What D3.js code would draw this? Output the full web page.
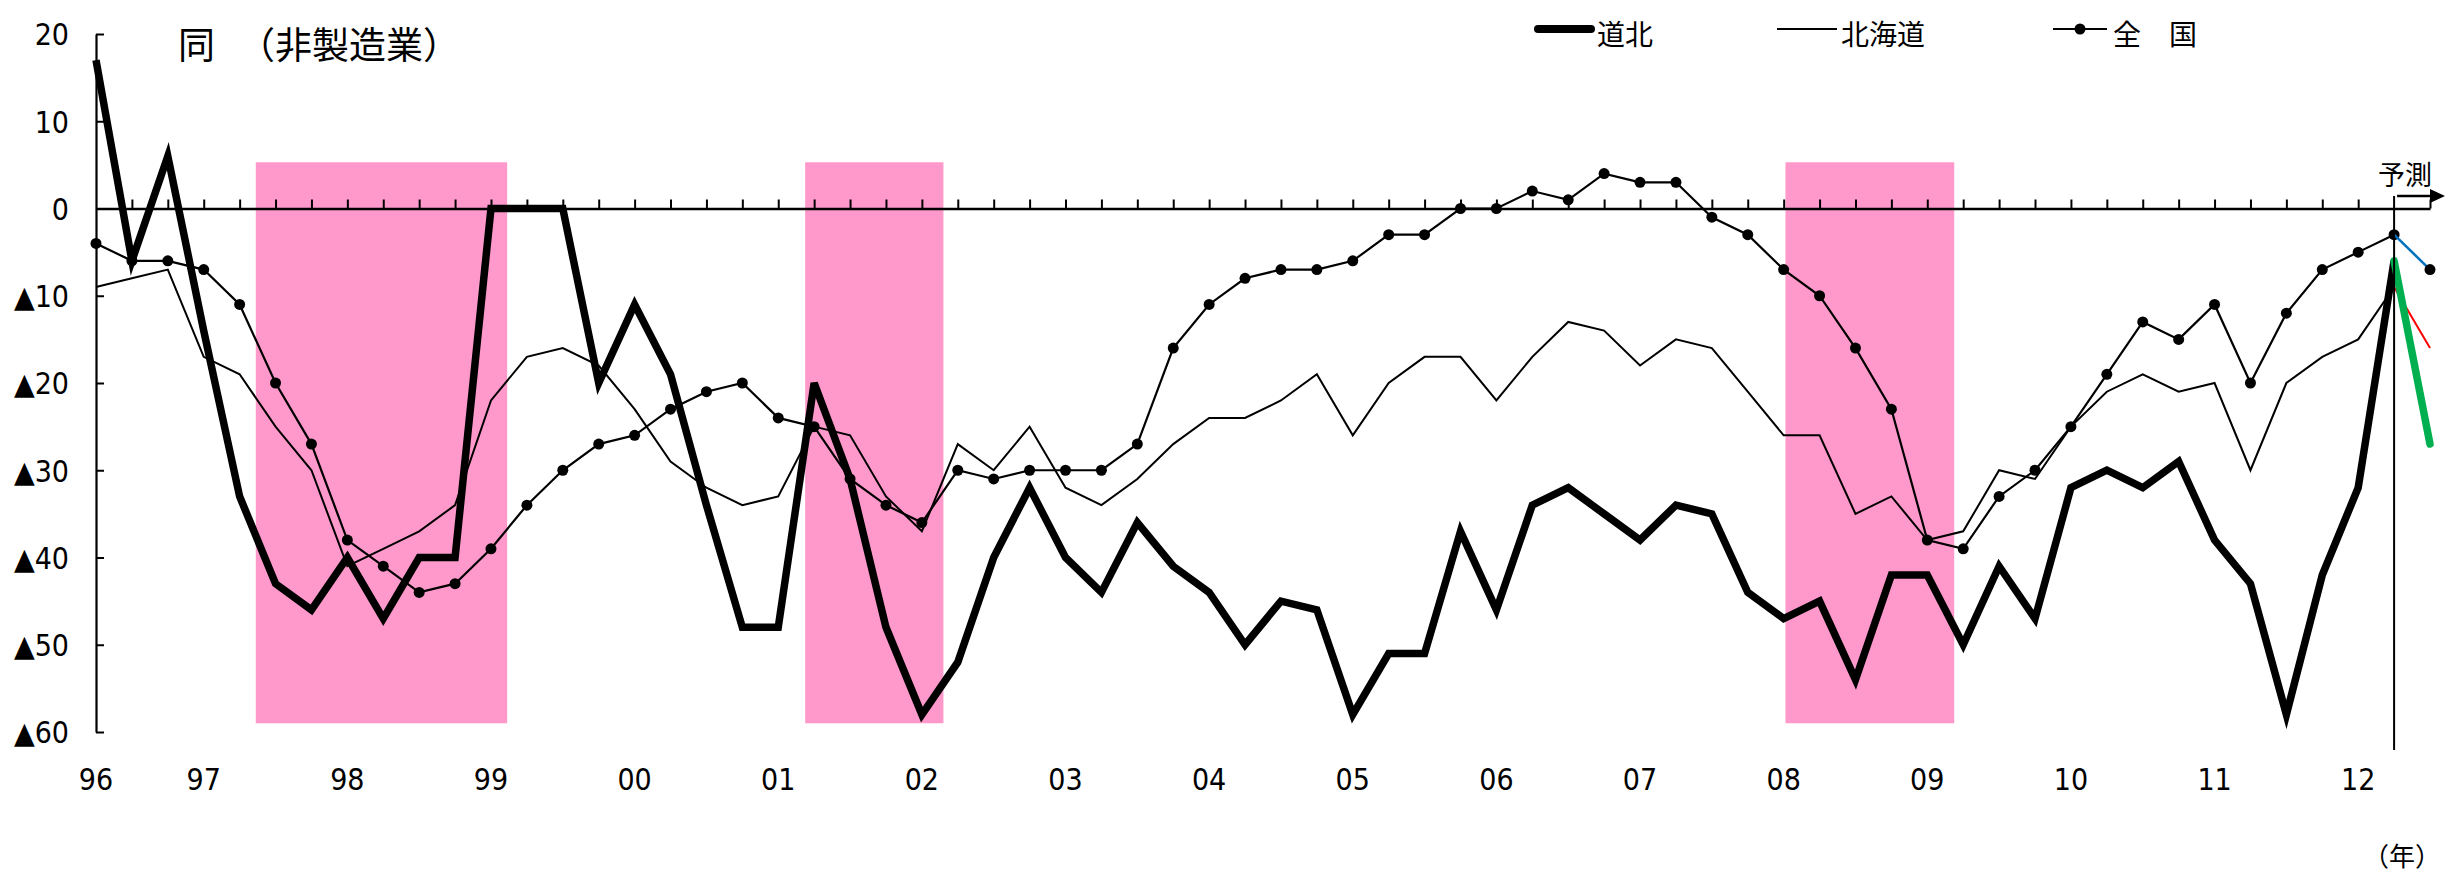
<!DOCTYPE html>
<html>
<head>
<meta charset="utf-8">
<script src="https://cdn.jsdelivr.net/npm/d3@7"></script>
<style>
  body { margin: 0; background: #fff; }
  svg { display: block; }
  .num { font-family: "Liberation Sans Narrow", "DejaVu Sans Condensed", "Liberation Sans", sans-serif; font-size: 30px; }
  .jp { font-family: "Noto Sans CJK JP", sans-serif; }
</style>
</head>
<body>
<div id="root" style="width:2445px;height:873px"></div>
<script>
// quarters: 96Q2 .. 12Q3 (last one is the forecast)
var categories = [];
(function () {
    var yr = 1996, q = 2;
    while (!(yr === 2012 && q === 4)) {
        categories.push(String(yr).slice(2) + "Q" + q);
        q++; if (q > 4) { q = 1; yr++; }
    }
})();

var yearLabels = ["96","97","98","99","00","01","02","03","04","05","06","07","08","09","10","11","12"];

// 道北
var dohoku = [17,-6,6,-14,-33,-43,-46,-40,-47,-40,-40,0,0,0,-20,-11,-19,-34,-48,-48,
    -20,-31,-48,-58,-52,-40,-32,-40,-44,-36,-41,-44,-50,-45,-46,-58,-51,-51,-37,-46,
    -34,-32,-35,-38,-34,-35,-44,-47,-45,-54,-42,-42,-50,-41,-47,-32,-30,-32,-29,-38,
    -43,-58,-42,-32,-6];
// 北海道
var hokkaido = [-9,-8,-7,-17,-19,-25,-30,-41,-39,-37,-34,-22,-17,-16,-18,-23,-29,-32,-34,-33,
    -25,-26,-33,-37,-27,-30,-25,-32,-34,-31,-27,-24,-24,-22,-19,-26,-20,-17,-17,-22,
    -17,-13,-14,-18,-15,-16,-21,-26,-26,-35,-33,-38,-37,-30,-31,-25,-21,-19,-21,-20,
    -30,-20,-17,-15,-9];
// 全国
var zenkoku = [-4,-6,-6,-7,-11,-20,-27,-38,-41,-44,-43,-39,-34,-30,-27,-26,-23,-21,-20,-24,
    -25,-31,-34,-36,-30,-31,-30,-30,-30,-27,-16,-11,-8,-7,-7,-6,-3,-3,0,0,
    2,1,4,3,3,-1,-3,-7,-10,-16,-23,-38,-39,-33,-30,-25,-19,-13,-15,-11,-20,-12,-7,-5,-3];

// 予測 (12Q3)
var forecastDohoku = -27, forecastHokkaido = -16, forecastZenkoku = -7;

// recessions (shaded), in quarter-index units
var recStart = [4.45, 19.75, 47.05];
var recEnd   = [11.45, 23.6, 51.75];

var yTicks = [20, 10, 0, -10, -20, -30, -40, -50, -60];

var width = 2445, height = 873;
var svg = d3.select("#root").append("svg")
    .attr("width", width)
    .attr("height", height);

var x = d3.scaleLinear().domain([0, categories.length - 1]).range([96, 2430]);
var y = d3.scaleLinear().domain([-60, 20]).range([732, 34]);
var nowIdx = categories.length - 2;

// shading
svg.append("g").selectAll("rect")
    .data(recStart)
    .enter().append("rect")
    .attr("x", function (d) { return x(d); })
    .attr("width", function (d, i) { return x(recEnd[i]) - x(d); })
    .attr("y", y(5.3))
    .attr("height", y(-59) - y(5.3))
    .attr("fill", "#ff99cc");

// y axis, ticks pointing inward
var yAxis = svg.append("g")
    .attr("transform", "translate(" + x(0) + ",0)")
    .call(d3.axisLeft(y).tickValues(yTicks).tickSize(-8).tickSizeOuter(0).tickPadding(27)
        .tickFormat(function (d) { return d < 0 ? "▲" + (-d) : d; }));
yAxis.selectAll("text").attr("class", "num").attr("fill", "#000").attr("dy", "0.36em");
yAxis.selectAll("line").attr("stroke", "#000").attr("stroke-width", 2);
yAxis.select(".domain").attr("stroke", "#000").attr("stroke-width", 2.2);

// x axis at zero with small upward ticks
var xAxis = svg.append("g")
    .attr("transform", "translate(0," + y(0) + ")")
    .call(d3.axisTop(x).tickValues(d3.range(1, categories.length).filter(function (i) { return i !== nowIdx; }))
        .tickSize(9).tickSizeOuter(0).tickFormat(""));
xAxis.selectAll("line").attr("stroke", "#000").attr("stroke-width", 2);
xAxis.select(".domain").attr("stroke", "#000").attr("stroke-width", 2.5);

// year labels under the plot, at the first quarter of each year
svg.append("g").selectAll("text")
    .data(yearLabels)
    .enter().append("text")
    .attr("class", "num")
    .attr("x", function (d) {
        var i = categories.findIndex(function (c) { return c.slice(0, 2) === d; });
        return x(i);
    })
    .attr("y", 790)
    .attr("text-anchor", "middle")
    .text(function (d) { return d; });

var line = d3.line()
    .x(function (d, i) { return x(i); })
    .y(function (d) { return y(d); });

// 北海道
svg.append("path").datum(hokkaido)
    .attr("d", line).attr("fill", "none").attr("stroke", "#000").attr("stroke-width", 2);

// 全国
svg.append("path").datum(zenkoku)
    .attr("d", line).attr("fill", "none").attr("stroke", "#000").attr("stroke-width", 2.2);
svg.append("g").selectAll("circle")
    .data(zenkoku)
    .enter().append("circle")
    .attr("cx", function (d, i) { return x(i); })
    .attr("cy", function (d) { return y(d); })
    .attr("r", 5.5)
    .attr("fill", "#000");

// 道北
svg.append("path").datum(dohoku)
    .attr("d", line).attr("fill", "none").attr("stroke", "#000").attr("stroke-width", 7.5)
    .attr("stroke-linejoin", "miter");

// forecasts
var last = nowIdx;
svg.append("line")
    .attr("x1", x(last)).attr("y1", y(zenkoku[last]))
    .attr("x2", x(last + 1)).attr("y2", y(forecastZenkoku))
    .attr("stroke", "#0070c0").attr("stroke-width", 2.5);
svg.append("circle")
    .attr("cx", x(last + 1)).attr("cy", y(forecastZenkoku)).attr("r", 5.5).attr("fill", "#000");
svg.append("line")
    .attr("x1", x(last)).attr("y1", y(hokkaido[last]))
    .attr("x2", x(last + 1)).attr("y2", y(forecastHokkaido))
    .attr("stroke", "#ff0000").attr("stroke-width", 2);
svg.append("line")
    .attr("x1", x(last)).attr("y1", y(dohoku[last]))
    .attr("x2", x(last + 1)).attr("y2", y(forecastDohoku))
    .attr("stroke", "#00b050").attr("stroke-width", 7.5).attr("stroke-linecap", "round");

// forecast divider + arrow
svg.append("line")
    .attr("x1", x(last)).attr("x2", x(last))
    .attr("y1", 196).attr("y2", 750)
    .attr("stroke", "#000").attr("stroke-width", 2);
svg.append("line")
    .attr("x1", x(last) + 3).attr("x2", 2432)
    .attr("y1", 196).attr("y2", 196)
    .attr("stroke", "#000").attr("stroke-width", 2.5);
svg.append("path")
    .attr("d", "M2430,189 L2445,196 L2430,203 Z")
    .attr("fill", "#000");
svg.append("text").attr("class", "jp")
    .attr("x", 2432).attr("y", 185).attr("text-anchor", "end")
    .attr("font-size", 27).text("予測");

// title
svg.append("text").attr("class", "jp")
    .attr("x", 178).attr("y", 59).attr("font-size", 37)
    .text("同");
svg.append("text").attr("class", "jp")
    .attr("x", 238).attr("y", 59).attr("font-size", 37)
    .text("（非製造業）");

// legend
var lg = svg.append("g").attr("class", "jp").attr("font-size", 28);
lg.append("line").attr("x1", 1538).attr("x2", 1591).attr("y1", 29).attr("y2", 29)
    .attr("stroke", "#000").attr("stroke-width", 8).attr("stroke-linecap", "round");
lg.append("text").attr("x", 1597).attr("y", 45).text("道北");
lg.append("line").attr("x1", 1777).attr("x2", 1837).attr("y1", 29).attr("y2", 29)
    .attr("stroke", "#000").attr("stroke-width", 2);
lg.append("text").attr("x", 1841).attr("y", 45).text("北海道");
lg.append("line").attr("x1", 2053).attr("x2", 2107).attr("y1", 29).attr("y2", 29)
    .attr("stroke", "#000").attr("stroke-width", 2.2);
lg.append("circle").attr("cx", 2080).attr("cy", 29).attr("r", 5.5).attr("fill", "#000");
lg.append("text").attr("x", 2113).attr("y", 45).text("全　国");

// unit
svg.append("text").attr("class", "jp")
    .attr("x", 2363).attr("y", 866).attr("font-size", 26)
    .text("（年）");
</script>
</body>
</html>
